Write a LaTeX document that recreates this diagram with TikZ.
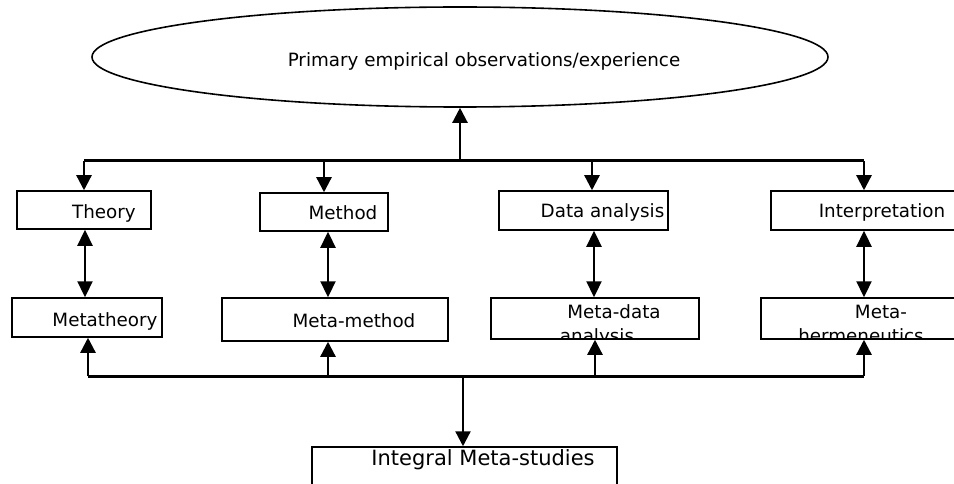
\documentclass[tikz,border=0pt]{standalone}
\usepackage{fontspec}
\setmainfont{DejaVu Sans}
\usetikzlibrary{arrows.meta,shapes.geometric}
\tikzset{
  boxnode/.style={draw, line width=1.5pt, rectangle, inner sep=0pt},
  lbl/.style={anchor=base, inner sep=0pt, font=\fontsize{18.3}{22}\selectfont},
  biglbl/.style={anchor=base, inner sep=0pt, font=\fontsize{21}{25}\selectfont},
  busline/.style={line width=3pt},
  arr/.style={line width=2.3pt, -{Triangle[width=15pt,length=15pt]}},
  uparr/.style={line width=2.3pt, -{Triangle[width=15pt,length=15pt]}},
  darr/.style={line width=2.3pt, {Triangle[width=15pt,length=16pt]}-{Triangle[width=15pt,length=16pt]}}
}
\begin{document}
\begin{tikzpicture}[x=1pt,y=-1pt]
\useasboundingbox (0,0) rectangle (954,484);
\fill[white] (0,0) rectangle (954,484);

% ellipse
\node[draw, ellipse, line width=1.6pt, minimum width=736pt, minimum height=100pt, inner sep=0pt] (ell) at (460,57) {};
\node[lbl] (elltxt) at (484,67) {Primary empirical observations/experience};

% upper boxes
\node[boxnode, minimum width=134pt, minimum height=38pt] (theory) at (84,210) {};
\node[boxnode, minimum width=128pt, minimum height=38pt] (method) at (324,212) {};
\node[boxnode, minimum width=169pt, minimum height=39pt] (data) at (583.5,210.5) {};
\node[boxnode, minimum width=186pt, minimum height=39pt] (interp) at (864,210.5) {};
\node[lbl] (theorytxt) at (104,218.5) {Theory};
\node[lbl] (methodtxt) at (343,219) {Method};
\node[lbl] (datatxt) at (602.5,218) {Data analysis};
\node[lbl] (interptxt) at (882,218) {Interpretation};

% lower boxes
\node[boxnode, minimum width=150pt, minimum height=39pt] (metatheory) at (87,317.5) {};
\node[boxnode, minimum width=226pt, minimum height=43pt] (metamethod) at (335,319.5) {};
\node[boxnode, minimum width=208pt, minimum height=41pt] (metadata) at (595,318.5) {};
\node[boxnode, minimum width=206pt, minimum height=41pt] (metaherm) at (864,318.5) {};
\node[lbl] (metatheorytxt) at (105,326) {Metatheory};
\node[lbl] (metamethodtxt) at (354,327) {Meta-method};
\begin{scope}
  \clip (metadata.south west) rectangle (metadata.north east);
  \node[lbl] (metadatatxta) at (614,318) {Meta-data};
  \node[lbl] (metadatatxtb) at (597,342) {analysis};
\end{scope}
\begin{scope}
  \clip (metaherm.south west) rectangle (metaherm.north east);
  \node[lbl] (metahermtxta) at (881,318) {Meta-};
  \node[lbl] (metahermtxtb) at (861,342) {hermeneutics};
\end{scope}

% integral box
\node[boxnode, minimum width=305pt, minimum height=53pt] (integral) at (464.5,473.5) {};
\node[biglbl] (integraltxt) at (483,465) {Integral Meta-studies};

% upper bus
\coordinate (u1) at (84,161);
\coordinate (u2) at (324,161);
\coordinate (u3) at (592,161);
\coordinate (u4) at (864,161);
\coordinate (uc) at (460,161);
\draw[busline] (u1) -- (u4);
\draw[uparr] (uc) -- (uc |- ell.south);
\draw[arr] (u1) -- (u1 |- theory.north);
\draw[arr] (u2) -- (u2 |- method.north);
\draw[arr] (u3) -- (u3 |- data.north);
\draw[arr] (u4) -- (u4 |- interp.north);

% lower bus
\coordinate (l1) at (88,376);
\coordinate (l2) at (328,376);
\coordinate (l3) at (595,376);
\coordinate (l4) at (864,376);
\coordinate (lc) at (463,376);

% double arrows
\draw[darr] (theory.south -| 85,0) -- (metatheory.north -| 85,0);
\draw[darr] (method.south -| l2) -- (metamethod.north -| l2);
\draw[darr] (data.south -| 594,0) -- (metadata.north -| 594,0);
\draw[darr] (interp.south -| l4) -- (metaherm.north -| l4);

\draw[busline] (l1) -- (l4);
\draw[arr] (l1) -- (l1 |- metatheory.south);
\draw[arr] (l2) -- (l2 |- metamethod.south);
\draw[arr] (l3) -- (l3 |- metadata.south);
\draw[arr] (l4) -- (l4 |- metaherm.south);
\draw[arr] (lc) -- (lc |- integral.north);
\end{tikzpicture}
\end{document}
